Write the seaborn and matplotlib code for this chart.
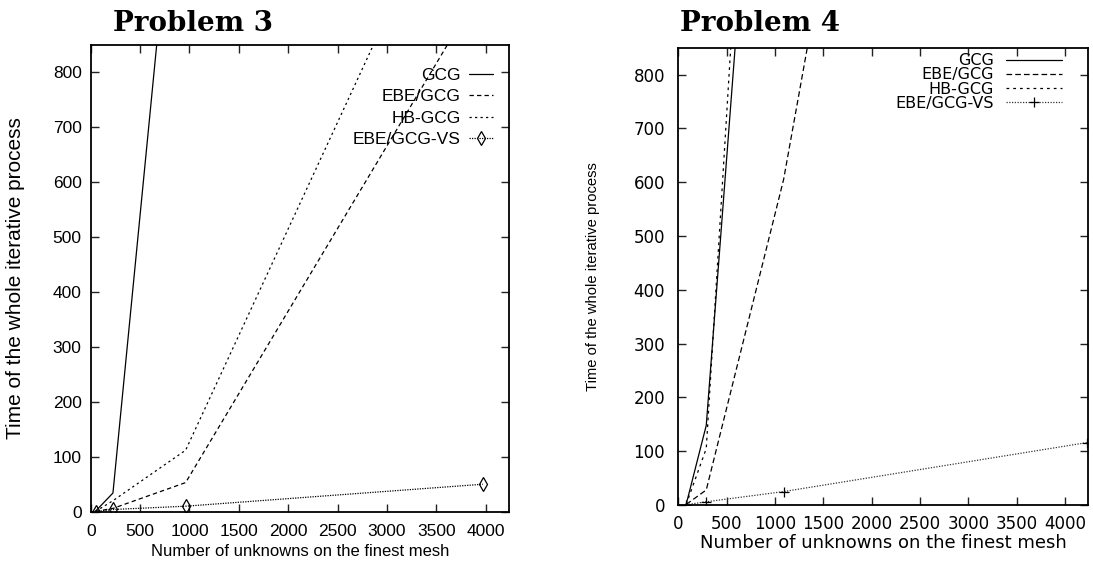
import matplotlib
matplotlib.use("Agg")
import matplotlib.pyplot as plt
import matplotlib.font_manager as fm
import seaborn as sns

# Problem 3: mesh sizes (7^2, 15^2, 31^2, 63^2) and times
n3 = [49, 225, 961, 3969]
gcg3 = [1, 34, 1390]
ebe3 = [0.5, 6, 53, 958]
hb3 = [0.5, 20, 112, 1280]
vs3 = [0.3, 4, 10, 50]

# Problem 4: mesh sizes (9^2, 17^2, 33^2, 65^2) and times
n4 = [81, 289, 1089, 4225]
gcg4 = [1, 148, 2030]
ebe4 = [1, 28, 605, 3740]
hb4 = [1, 105, 2460]
vs4 = [0.5, 6, 25, 116]

labels = ["GCG", "EBE/GCG", "HB-GCG", "EBE/GCG-VS"]
xticks = list(range(0, 4001, 500))
yticks = list(range(0, 801, 100))
xlabel = "Number of unknowns on the finest mesh"
ylabel = "Time of the whole iterative process"

sns.set_style("ticks")
plt.rcParams["font.family"] = ["Liberation Sans", "DejaVu Sans"]
plt.rcParams["text.color"] = "k"
plt.rcParams["axes.labelcolor"] = "k"

names = {f.name for f in fm.fontManager.ttflist}
if "Liberation Sans Narrow" in names:
    narrow = dict(family="Liberation Sans Narrow", size=14)
else:
    narrow = dict(family="Liberation Sans", size=12.5)
wide = dict(family="DejaVu Sans", size=12)
title_font = dict(family="DejaVu Serif", size=20, weight="bold", color="k")

fig = plt.figure(figsize=(10.93, 5.70), dpi=100)
ax3 = fig.add_axes([0.083, 0.1023, 0.3827, 0.8187])
ax4 = fig.add_axes([0.6206, 0.114, 0.3746, 0.8023])

lw = 0.9
# left panel
sns.lineplot(x=n3[:3], y=gcg3, ax=ax3, color="k", lw=lw, label=labels[0])
sns.lineplot(x=n3, y=ebe3, ax=ax3, color="k", lw=lw, linestyle=(0, (3.5, 2.5)), label=labels[1])
sns.lineplot(x=n3, y=hb3, ax=ax3, color="k", lw=lw, linestyle=(0, (1.8, 2.6)), label=labels[2])
sns.lineplot(x=n3, y=vs3, ax=ax3, color="k", lw=lw, linestyle=(0, (1, 1)), marker="d",
             markersize=7, markerfacecolor="none", markeredgecolor="k", markeredgewidth=0.9,
             label=labels[3])

# right panel
sns.lineplot(x=n4[:3], y=gcg4, ax=ax4, color="k", lw=lw, label=labels[0])
sns.lineplot(x=n4, y=ebe4, ax=ax4, color="k", lw=lw, linestyle=(0, (4.5, 2.5)), label=labels[1])
sns.lineplot(x=n4[:3], y=hb4, ax=ax4, color="k", lw=lw, linestyle=(0, (2.2, 3.2)), label=labels[2])
sns.lineplot(x=n4, y=vs4, ax=ax4, color="#333333", lw=lw, linestyle=(0, (1, 1.2)), marker="+",
             markersize=7, markeredgecolor="k", markeredgewidth=0.9, label=labels[3])

for ax in (ax3, ax4):
    ax.set_xlim(0, 4235)
    ax.set_ylim(0, 850)
    ax.set_xticks(xticks)
    ax.set_yticks(yticks)
    ax.tick_params(direction="in", top=True, right=True, length=6, width=1,
                   color="#222222", labelcolor="k")
    for s in ax.spines.values():
        s.set_linewidth(1.3)
        s.set_color("k")

# left panel text
ax3.tick_params(axis="x", pad=9)
ax3.tick_params(axis="y", pad=6.5)
for t in ax3.get_xticklabels() + ax3.get_yticklabels():
    t.set_fontfamily(narrow["family"])
    t.set_fontsize(narrow["size"])
ax3.set_xlabel(xlabel, family=narrow["family"], size=narrow["size"] - 0.5)
ax3.set_ylabel(ylabel, family="Liberation Sans", size=15)
ax3.xaxis.set_label_coords(0.5, -0.069)
ax3.yaxis.set_label_coords(-0.157, 0.5)
t3 = ax3.set_title("Problem 3", loc="left", pad=10.3, **title_font)
t3.set_x(0.053)
ax3.legend(loc="upper right", bbox_to_anchor=(0.962, 0.951), frameon=False,
           markerfirst=False, borderpad=0, borderaxespad=0, handlelength=1.4,
           handletextpad=0.45, labelspacing=0.36, numpoints=1, prop=narrow)

# right panel text
ax4.tick_params(axis="x", pad=7)
ax4.tick_params(axis="y", pad=9.5)
for t in ax4.get_xticklabels() + ax4.get_yticklabels():
    t.set_fontfamily(wide["family"])
    t.set_fontsize(wide["size"])
ax4.set_xlabel(xlabel, family="DejaVu Sans", size=13)
ax4.set_ylabel(ylabel, family="Liberation Sans", size=10.6)
ax4.xaxis.set_label_coords(0.5, -0.063)
ax4.yaxis.set_label_coords(-0.191, 0.5)
t4 = ax4.set_title("Problem 4", loc="left", pad=12.2, **title_font)
t4.set_x(0.004)
ax4.legend(loc="upper right", bbox_to_anchor=(0.936, 0.988), frameon=False,
           markerfirst=False, borderpad=0, borderaxespad=0, handlelength=3.45,
           handletextpad=0.8, labelspacing=-0.05, numpoints=1,
           prop=dict(family="DejaVu Sans", size=11.5))

fig.savefig("out.png", dpi=100)
